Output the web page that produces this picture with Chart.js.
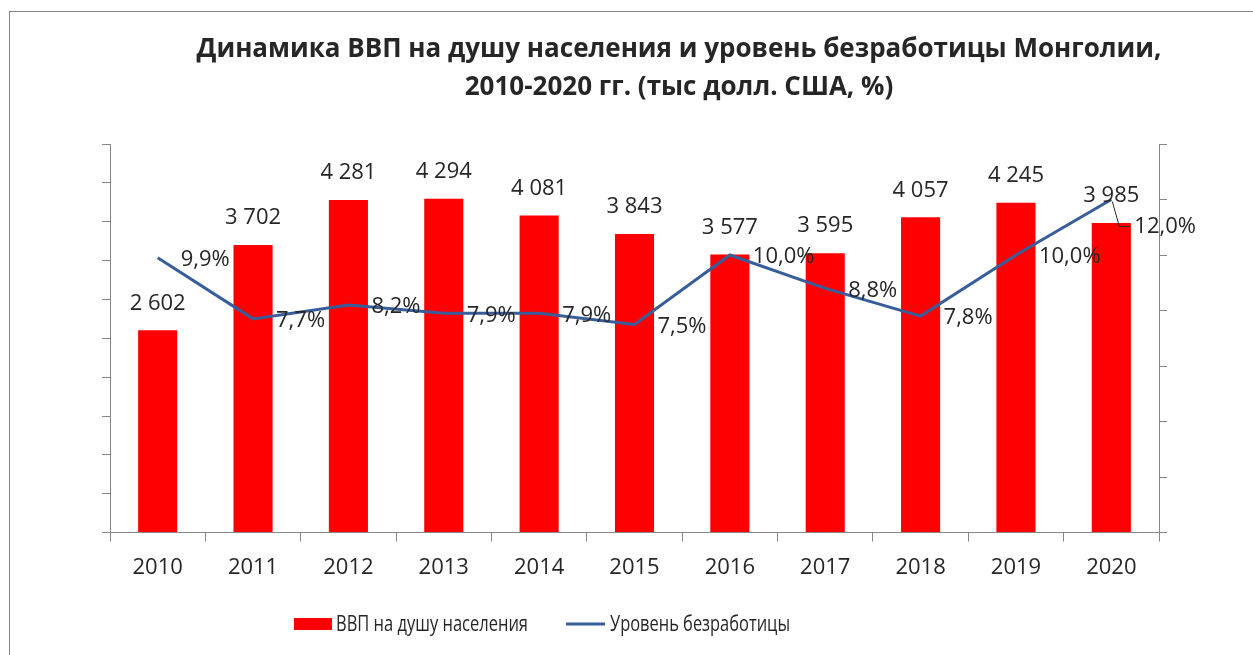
<!DOCTYPE html>
<html>
<head>
<meta charset="utf-8">
<script src="https://cdn.jsdelivr.net/npm/chart.js@4.4.1/dist/chart.umd.min.js"></script>
<style>
  html, body { margin: 0; padding: 0; background: #fff; overflow: hidden; }
  #wrap { width: 1253px; height: 655px; }
</style>
</head>
<body>
<div id="wrap"><canvas id="chart" width="1253" height="655"></canvas></div>
<script>
const years = ['2010', '2011', '2012', '2013', '2014', '2015', '2016', '2017', '2018', '2019', '2020'];
const gdpPerCapita = [2602, 3702, 4281, 4294, 4081, 3843, 3577, 3595, 4057, 4245, 3985];
const unemployment = [9.9, 7.7, 8.2, 7.9, 7.9, 7.5, 10.0, 8.8, 7.8, 10.0, 12.0];
const titleLines = [
    'Динамика ВВП на душу населения и уровень безработицы Монголии,',
    '2010-2020 гг. (тыс долл. США, %)',
];
const gdpName = 'ВВП на душу населения';
const unemploymentName = 'Уровень безработицы';

const fontFamily = '"Open Sans", "Noto Sans", sans-serif';
const textColor = '#262626';
const axisColor = '#878787';
const barColor = '#ff0000';
const lineColor = '#385d9b';

const fmtGdp = (v) => `${Math.floor(v / 1000)} ${String(v % 1000).padStart(3, '0')}`;
const fmtPct = (v) => v.toFixed(1).replace('.', ',') + '%';

// frame, title, data labels and legend drawn on the canvas
const decor = {
    id: 'decor',
    beforeDraw(chart) {
        const ctx = chart.ctx;
        ctx.save();
        ctx.fillStyle = '#fff';
        ctx.fillRect(0, 0, chart.width, chart.height);
        ctx.strokeStyle = axisColor;
        ctx.lineWidth = 1;
        ctx.strokeRect(9.5, 11.5, chart.width + 50, chart.height + 50);

        ctx.fillStyle = textColor;
        ctx.font = `bold 26px ${fontFamily}`;
        ctx.textAlign = 'center';
        ctx.textBaseline = 'middle';
        ctx.fillText(titleLines[0], 679, 50, 977);
        ctx.fillText(titleLines[1], 679, 88, 446);
        ctx.restore();
    },
    afterDatasetsDraw(chart) {
        const ctx = chart.ctx;
        const bars = chart.getDatasetMeta(0).data;
        const points = chart.getDatasetMeta(1).data;
        ctx.save();
        ctx.fillStyle = textColor;
        ctx.font = `22px ${fontFamily}`;
        ctx.textBaseline = 'middle';

        ctx.textAlign = 'center';
        bars.forEach((bar, i) => {
            ctx.fillText(fmtGdp(gdpPerCapita[i]), bar.x, bar.y - 27);
        });

        ctx.textAlign = 'left';
        points.forEach((pt, i) => {
            let dy = 2;
            if (i === points.length - 1) {
                // last label pushed down with a leader line, like the original
                dy = 27;
                ctx.strokeStyle = textColor;
                ctx.lineWidth = 1;
                ctx.beginPath();
                ctx.moveTo(pt.x + 1, pt.y + 2);
                ctx.lineTo(pt.x + 8, pt.y + dy);
                ctx.lineTo(pt.x + 19, pt.y + dy);
                ctx.stroke();
            }
            ctx.fillText(fmtPct(unemployment[i]), pt.x + 23, pt.y + dy);
        });

        // legend
        const ly = 624;
        ctx.fillStyle = barColor;
        ctx.fillRect(294, ly - 6, 38, 12);
        ctx.strokeStyle = lineColor;
        ctx.lineWidth = 3;
        ctx.beginPath();
        ctx.moveTo(566, ly);
        ctx.lineTo(605, ly);
        ctx.stroke();
        ctx.fillStyle = textColor;
        ctx.font = `22px ${fontFamily}`;
        ctx.fillText(gdpName, 336, ly + 1, 192);
        ctx.fillText(unemploymentName, 610, ly + 1, 180);
        ctx.restore();
    },
};

const axisGrid = (len) => ({
    display: true,
    drawOnChartArea: false,
    drawTicks: true,
    tickLength: len,
    color: axisColor,
});

new Chart(document.getElementById('chart'), {
    type: 'bar',
    data: {
        labels: years,
        datasets: [
            {
                type: 'bar',
                label: gdpName,
                data: gdpPerCapita,
                backgroundColor: barColor,
                borderWidth: 0,
                barPercentage: 0.41,
                categoryPercentage: 1,
                yAxisID: 'y',
                order: 2,
            },
            {
                type: 'line',
                label: unemploymentName,
                data: unemployment,
                borderColor: lineColor,
                backgroundColor: lineColor,
                borderWidth: 3,
                pointRadius: 0,
                tension: 0,
                yAxisID: 'y1',
                order: 1,
            },
        ],
    },
    options: {
        responsive: false,
        animation: false,
        layout: {
            padding: { left: 102, right: 86, top: 144, bottom: 61 },
        },
        plugins: {
            legend: { display: false },
            title: { display: false },
            tooltip: { enabled: false },
        },
        scales: {
            x: {
                offset: true,
                grid: { ...axisGrid(9), offset: true },
                border: { color: axisColor },
                ticks: {
                    color: textColor,
                    padding: 13,
                    font: { family: fontFamily, size: 22 },
                },
            },
            y: {
                position: 'left',
                min: 0,
                max: 5000,
                ticks: { stepSize: 500, display: false },
                grid: axisGrid(8),
                border: { color: axisColor },
            },
            y1: {
                position: 'right',
                min: 0,
                max: 14,
                ticks: { stepSize: 2, display: false },
                grid: axisGrid(8),
                border: { color: axisColor },
            },
        },
    },
    plugins: [decor],
});
</script>
</body>
</html>
